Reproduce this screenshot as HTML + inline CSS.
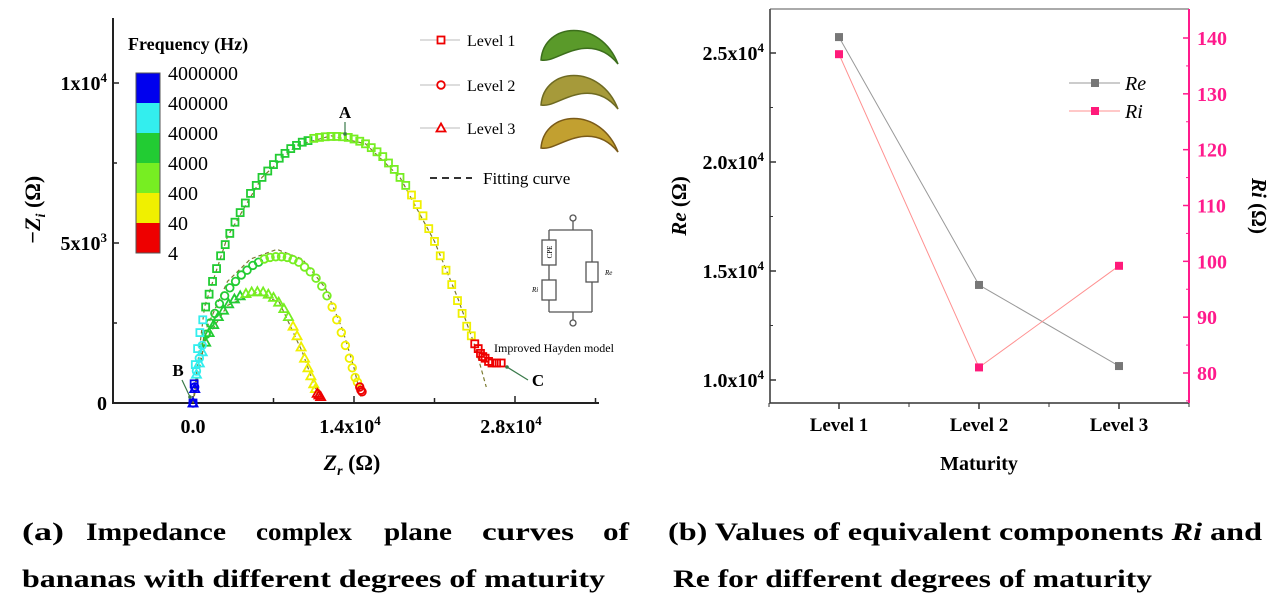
<!DOCTYPE html>
<html><head><meta charset="utf-8"><style>
html,body{margin:0;padding:0;background:#fff;}
svg{display:block;font-family:"Liberation Serif",serif;}
</style></head><body>
<svg id="fig" width="1275" height="600" viewBox="0 0 1275 600" xmlns="http://www.w3.org/2000/svg">
<g id="left"></g>
<g id="right"></g>
<g font-weight="bold" font-size="25">
<g>
<text x="22" y="540" textLength="42" lengthAdjust="spacingAndGlyphs">(a)</text>
<text x="86" y="540" textLength="140" lengthAdjust="spacingAndGlyphs">Impedance</text>
<text x="256" y="540" textLength="96" lengthAdjust="spacingAndGlyphs">complex</text>
<text x="384" y="540" textLength="68" lengthAdjust="spacingAndGlyphs">plane</text>
<text x="482" y="540" textLength="92" lengthAdjust="spacingAndGlyphs">curves</text>
<text x="603" y="540" textLength="26" lengthAdjust="spacingAndGlyphs">of</text>
</g>
<text x="22" y="587" textLength="583" lengthAdjust="spacingAndGlyphs">bananas with different degrees of maturity</text>
<text x="668" y="540" textLength="594" lengthAdjust="spacingAndGlyphs">(b) Values of equivalent components <tspan font-style="italic">Ri</tspan> and</text>
<text x="673" y="587" textLength="479" lengthAdjust="spacingAndGlyphs">Re for different degrees of maturity</text>
</g>
</svg>
<script>
// ---------- Left chart data (kΩ) ----------
const zr1=[0,0.1,0.2,0.4,0.6,0.85,1.1,1.4,1.7,2.05,2.4,2.8,3.2,3.65,4.1,4.55,5.0,5.5,6.0,6.5,7.0,7.5,8.0,8.5,9.0,9.5,10.0,10.5,11.0,11.5,12.0,12.5,13.0,13.5,14.0,14.5,15.0,15.5,16.0,16.5,17.0,17.5,18.0,18.5,19.0,19.5,20.0,20.5,21.0,21.5,22.0,22.5,23.0,23.4,23.8,24.2,24.5,24.8,25.0,25.2,25.4,25.7,26.0,26.4,26.8];
const zi1=[0,0.6,1.2,1.7,2.2,2.6,3.0,3.4,3.8,4.2,4.6,4.95,5.3,5.65,5.95,6.25,6.55,6.8,7.05,7.25,7.45,7.65,7.8,7.95,8.05,8.15,8.2,8.27,8.3,8.32,8.33,8.33,8.32,8.3,8.25,8.18,8.1,7.98,7.85,7.7,7.5,7.3,7.05,6.8,6.5,6.2,5.85,5.45,5.05,4.6,4.15,3.7,3.2,2.8,2.4,2.1,1.85,1.7,1.55,1.45,1.4,1.3,1.25,1.25,1.25];
const band1=[0,0,1,1,1,1,2,2,2,2,2,2,2,2,2,2,2,2,2,2,2,2,2,2,2,2,2,3,3,3,3,3,3,3,3,3,3,3,3,3,3,3,3,3,4,4,4,4,4,4,4,4,4,4,4,4,5,5,5,5,5,5,5,5,5];
const zr2=[0,0.15,0.3,0.55,0.8,1.15,1.5,1.9,2.3,2.75,3.2,3.7,4.2,4.7,5.2,5.7,6.2,6.7,7.2,7.7,8.2,8.7,9.2,9.7,10.2,10.7,11.2,11.65,12.1,12.5,12.9,13.25,13.6,13.85,14.1,14.3,14.5,14.6,14.7];
const zi2=[0,0.5,1.0,1.4,1.8,2.15,2.5,2.8,3.1,3.35,3.6,3.8,4.0,4.15,4.3,4.4,4.5,4.55,4.57,4.57,4.55,4.48,4.4,4.25,4.1,3.9,3.65,3.35,3.0,2.6,2.2,1.8,1.4,1.1,0.8,0.65,0.5,0.4,0.35];
const band2=[0,0,1,1,1,2,2,2,2,2,2,2,2,2,2,2,3,3,3,3,3,3,3,3,3,3,3,3,4,4,4,4,4,4,4,4,5,5,5];
const zr3=[0,0.15,0.3,0.55,0.8,1.1,1.4,1.8,2.2,2.65,3.1,3.6,4.1,4.6,5.1,5.6,6.1,6.55,7.0,7.45,7.9,8.3,8.7,9.05,9.4,9.7,10.0,10.25,10.5,10.65,10.8,10.95,11.1];
const zi3=[0,0.45,0.9,1.25,1.6,1.9,2.2,2.45,2.7,2.9,3.1,3.25,3.35,3.42,3.47,3.48,3.47,3.4,3.3,3.15,2.95,2.7,2.4,2.1,1.75,1.4,1.1,0.85,0.6,0.45,0.3,0.25,0.2];
const band3=[0,0,1,1,1,2,2,2,2,2,2,2,2,3,3,3,3,3,3,3,3,3,4,4,4,4,4,4,4,4,5,5,5];
const fitZr1=[0,1,3,6,9,12,15,18,21,23,24.5,25.5];
const fitZi1=[0,3,5.2,7.05,8.05,8.35,8.1,7.05,5.05,3.3,1.8,0.5];
const fitZr2=[0,1,3,5,7.3,9.5,11.5,13,14,14.6];
const fitZi2=[0,2.2,3.8,4.5,4.8,4.5,3.6,2.3,1.1,0.2];
const fitZr3=[0,1,3,5.5,7.5,9.5,10.6,11.0];
const fitZi3=[0,1.9,3.05,3.45,3.15,1.6,0.5,0.1];
const bandColors=["#0000ee","#33eeee","#22cc33","#77ee22","#f0f000","#ee0000"];
const bandLabels=["4000000","400000","40000","4000","400","40","4"];
const xTicks=[0,14,28];
const xTickLabels=["0.0","1.4x10","2.8x10"];
const yTicks=[0,5,10];

// ---------- Right chart data ----------
const levels=["Level 1","Level 2","Level 3"];
const reVals=[25730,14360,10640];
const riVals=[137.1,81.0,99.2];
const reTicks=[10000,15000,20000,25000];
const reTickLabels=["1.0x10","1.5x10","2.0x10","2.5x10"];
const riTicks=[80,90,100,110,120,130,140];

const NS="http://www.w3.org/2000/svg";
function mk(parent,tag,attrs,txt){const e=document.createElementNS(NS,tag);for(const k in attrs)e.setAttribute(k,attrs[k]);if(txt!==undefined)e.textContent=txt;parent.appendChild(e);return e;}

// ---------- Left chart ----------
const L=document.getElementById('left');
const X=v=>193+v*(161/14);
const Y=v=>403-v*32;
let ax=mk(L,'path',{d:'M113,18 V403 H599',fill:'none',stroke:'#222','stroke-width':2});


[2.5,7.5].forEach(v=>{mk(L,'line',{x1:113,x2:117,y1:Y(v),y2:Y(v),stroke:'#222','stroke-width':1.5});});
yTicks.forEach(v=>{mk(L,'line',{x1:113,x2:119,y1:Y(v),y2:Y(v),stroke:'#222','stroke-width':1.5});});
const ylab=[["0",""],["5x10","3"],["1x10","4"]];
yTicks.forEach((v,i)=>{const t=mk(L,'text',{x:107,y:Y(v)+7,'text-anchor':'end','font-size':20,'font-weight':'bold'});


t.appendChild(document.createTextNode(ylab[i][0]));if(ylab[i][1]){mk(t,'tspan',{dy:-8,'font-size':13},ylab[i][1]);}});
[7,21,35].forEach(v=>{mk(L,'line',{x1:X(v),x2:X(v),y1:403,y2:398,stroke:'#222','stroke-width':1.5});});
xTicks.forEach((v,i)=>{mk(L,'line',{x1:X(v),x2:X(v),y1:403,y2:396,stroke:'#222','stroke-width':1.5});
const t=mk(L,'text',{x:X(v)+(i?-4:0),y:433,'text-anchor':'middle','font-size':20,'font-weight':'bold'},xTickLabels[i]);


if(i)mk(t,'tspan',{dy:-8,'font-size':13},'4');});
let yt=mk(L,'text',{transform:'translate(40,210) rotate(-90)','text-anchor':'middle','font-size':22,'font-weight':'bold'});


mk(yt,'tspan',{'font-style':'italic'},'−Z');mk(yt,'tspan',{'font-size':14,dy:5,'font-style':'italic'},'i');mk(yt,'tspan',{dy:-5},' (Ω)');
let xt=mk(L,'text',{x:352,y:470,'text-anchor':'middle','font-size':22,'font-weight':'bold'});


mk(xt,'tspan',{'font-style':'italic'},'Z');mk(xt,'tspan',{'font-size':14,dy:5,'font-style':'italic'},'r');mk(xt,'tspan',{dy:-5},' (Ω)');
[[fitZr1,fitZi1],[fitZr2,fitZi2],[fitZr3,fitZi3]].forEach((f,k)=>{const p=f[0].map((v,i)=>X(v)+','+Y(f[1][i])).join(' ');
const e=mk(L,'polyline',{points:p,fill:'none',stroke:'#7a7a30','stroke-width':1.2,'stroke-dasharray':'4,3'});

});
function marker(g,type,x,y,c){if(type===0)return mk(g,'rect',{x:x-3.5,y:y-3.5,width:7,height:7,fill:'none',stroke:c,'stroke-width':1.8});
if(type===1)return mk(g,'circle',{cx:x,cy:y,r:3.8,fill:'none',stroke:c,'stroke-width':1.8});
return mk(g,'path',{d:`M${x},${y-4.5} L${x+4.5},${y+3.5} L${x-4.5},${y+3.5} Z`,fill:'none',stroke:c,'stroke-width':1.8});}
[[zr3,zi3,band3,2],[zr2,zi2,band2,1],[zr1,zi1,band1,0]].forEach(s=>{const g=mk(L,'g',{});


s[0].forEach((v,i)=>{const m=marker(g,s[3],X(v),Y(s[1][i]),bandColors[s[2][i]]);

});});
let cbT=mk(L,'text',{x:128,y:50,'font-size':18,'font-weight':'bold'},'Frequency (Hz)');


bandColors.forEach((c,i)=>{const r=mk(L,'rect',{x:136,y:73+i*30,width:24,height:30,fill:c});

});
mk(L,'rect',{x:136,y:73,width:24,height:180,fill:'none',stroke:'#555','stroke-width':1});
bandLabels.forEach((s,i)=>{const t=mk(L,'text',{x:168,y:80+i*30,'font-size':20},s);

});
["Level 1","Level 2","Level 3"].forEach((s,i)=>{const y=[40,85,128][i];
const g=mk(L,'g',{});


mk(g,'line',{x1:420,x2:460,y1:y,y2:y,stroke:'#bbb','stroke-width':1});
const m=marker(g,i,441,y,'#ee0000');m.setAttribute('fill','#fff');
mk(g,'text',{x:467,y:y+6,'font-size':16},s);});
const banCols=[["#5a9a2a","#3c6e1c"],["#a69a3a","#6e6a22"],["#c2a030","#7a5a18"]];
[40,85,128].forEach((y,i)=>{const g=mk(L,'g',{});


mk(g,'path',{d:`M541,${y+20} C544,${y-18} 600,${y-22} 618,${y+24} C605,${y+8} 590,${y+6} 575,${y+10} C560,${y+14} 550,${y+22} 541,${y+20} Z`,fill:banCols[i][0],stroke:banCols[i][1],'stroke-width':1.5});});
let fl=mk(L,'line',{x1:430,x2:472,y1:178,y2:178,stroke:'#333','stroke-width':2,'stroke-dasharray':'7,5'});


let ft=mk(L,'text',{x:483,y:184,'font-size':17},'Fitting curve');


const C=mk(L,'g',{fill:'none',stroke:'#555','stroke-width':1.3});


mk(C,'path',{d:'M573,221 V230 M549,230 H592 M549,230 V240 M549,265 V280 M549,300 V312 M592,230 V262 M592,282 V312 M549,312 H592 M573,312 V320'});
mk(C,'rect',{x:542,y:240,width:14,height:25});mk(C,'rect',{x:542,y:280,width:14,height:20});mk(C,'rect',{x:586,y:262,width:12,height:20});
mk(C,'circle',{cx:573,cy:218,r:3});mk(C,'circle',{cx:573,cy:323,r:3});
mk(L,'text',{transform:'translate(552,252) rotate(-90)','font-size':7,'text-anchor':'middle'},'CPE');
mk(L,'text',{x:532,y:292,'font-size':7,'font-style':'italic'},'Ri');
mk(L,'text',{x:605,y:275,'font-size':7,'font-style':'italic'},'Re');
let hm=mk(L,'text',{x:494,y:352,'font-size':12},'Improved Hayden model');


const ann=[['A',345,118,345,122,345,134],['B',178,376,182,380,190,397],['C',538,386,528,380,507,367]];
ann.forEach(a=>{const t=mk(L,'text',{x:a[1],y:a[2],'text-anchor':'middle','font-size':17,'font-weight':'bold'},a[0]);


mk(L,'line',{x1:a[3],y1:a[4],x2:a[5],y2:a[6],stroke:'#3a7a4a','stroke-width':1.2});
mk(L,'circle',{cx:a[5],cy:a[6],r:1.8,fill:'#3a7a4a'});});

// ---------- Right chart ----------
const R=document.getElementById('right');
const X0=770,X1=1189,T=9,B=403;
const cx=i=>839+i*140;
const yRe=v=>53+(25000-v)*(109/5000);
const yRi=v=>38+(140-v)*(335/60);
let ra=mk(R,'path',{d:`M${X0},${T} V${B} H${X1}`,fill:'none',stroke:'#333','stroke-width':1.5});


mk(R,'line',{x1:X0,x2:X1,y1:T,y2:T,stroke:'#555','stroke-width':1});
let rr=mk(R,'line',{x1:X1,x2:X1,y1:T,y2:B,stroke:'#ff1a8c','stroke-width':2});


reTicks.forEach((v,i)=>{mk(R,'line',{x1:X0,x2:X0+6,y1:yRe(v),y2:yRe(v),stroke:'#333','stroke-width':1.5});
mk(R,'line',{x1:X0,x2:X0+3,y1:yRe(v+2500),y2:yRe(v+2500),stroke:'#333','stroke-width':1});
const t=mk(R,'text',{x:X0-6,y:yRe(v)+7,'text-anchor':'end','font-size':20,'font-weight':'bold'},reTickLabels[i]);


mk(t,'tspan',{dy:-8,'font-size':13},'4');});
riTicks.forEach(v=>{mk(R,'line',{x1:X1,x2:X1-6,y1:yRi(v),y2:yRi(v),stroke:'#ff1a8c','stroke-width':1.5});
mk(R,'line',{x1:X1,x2:X1-3,y1:yRi(v-5),y2:yRi(v-5),stroke:'#ff1a8c','stroke-width':1});
const t=mk(R,'text',{x:X1+8,y:yRi(v)+7,'font-size':20,'font-weight':'bold',fill:'#ff1a8c'},String(v));

});
levels.forEach((s,i)=>{mk(R,'line',{x1:cx(i),x2:cx(i),y1:B,y2:B+6,stroke:'#333','stroke-width':1.5});
mk(R,'line',{x1:cx(i)+70,x2:cx(i)+70,y1:B,y2:B+4,stroke:'#333','stroke-width':1});
const t=mk(R,'text',{x:cx(i),y:431,'text-anchor':'middle','font-size':19,'font-weight':'bold'},s);

});
mk(R,'line',{x1:cx(0)-70,x2:cx(0)-70,y1:B,y2:B+4,stroke:'#333','stroke-width':1});
let mt=mk(R,'text',{x:979,y:470,'text-anchor':'middle','font-size':20,'font-weight':'bold'},'Maturity');


let ret=mk(R,'text',{transform:'translate(686,206) rotate(-90)','text-anchor':'middle','font-size':21,'font-weight':'bold'});


mk(ret,'tspan',{'font-style':'italic'},'Re');mk(ret,'tspan',{},' (Ω)');
let rit=mk(R,'text',{transform:'translate(1252,206) rotate(90)','text-anchor':'middle','font-size':21,'font-weight':'bold'});


mk(rit,'tspan',{'font-style':'italic'},'Ri');mk(rit,'tspan',{},' (Ω)');
let rel=mk(R,'polyline',{points:reVals.map((v,i)=>cx(i)+','+yRe(v)).join(' '),fill:'none',stroke:'#999','stroke-width':1});


let ril=mk(R,'polyline',{points:riVals.map((v,i)=>cx(i)+','+yRi(v)).join(' '),fill:'none',stroke:'#ff9090','stroke-width':1});


reVals.forEach((v,i)=>{const m=mk(R,'rect',{x:cx(i)-4,y:yRe(v)-4,width:8,height:8,fill:'#777'});

});
riVals.forEach((v,i)=>{const m=mk(R,'rect',{x:cx(i)-4,y:yRi(v)-4,width:8,height:8,fill:'#ff1a7a'});

});
[['Re','#999','#777',83],['Ri','#ff9090','#ff1a7a',111]].forEach(l=>{const g=mk(R,'g',{});


mk(g,'line',{x1:1069,x2:1120,y1:l[3],y2:l[3],stroke:l[1],'stroke-width':1});
mk(g,'rect',{x:1091,y:l[3]-4,width:8,height:8,fill:l[2]});
mk(g,'text',{x:1125,y:l[3]+7,'font-size':20,'font-style':'italic'},l[0]);});
</script>
</body></html>
